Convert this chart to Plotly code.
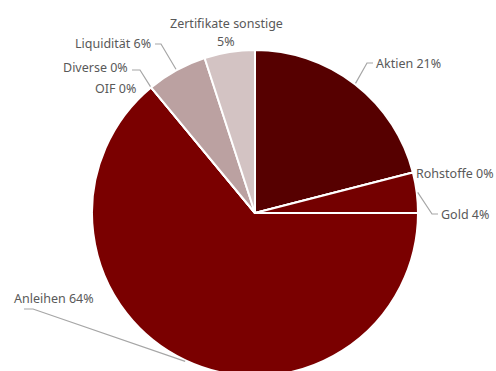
import math
import plotly.graph_objects as go

# Portfolio allocation (percent)
categories = ["Aktien", "Rohstoffe", "Gold", "Anleihen", "OIF", "Diverse",
              "Liquidität", "Zertifikate sonstige"]
shares = [21, 0, 4, 64, 0, 0, 6, 5]
colors = ["#560000", "#6e0000", "#740000", "#7a0000", "#7a0000", "#7a0000",
          "#bba1a1", "#d3c3c3"]

W, H = 496, 376
CX, CY, R = 255, 213, 163          # pie centre / radius in pixels
TEXT = "#595959"
LINE = "#a6a6a6"
FONT = dict(family="Noto Sans", size=12.5, color=TEXT)


def px(x, y):
    return x / W, 1 - y / H


def edge_point(frac, r=R):
    """Point on the rim at a cumulative fraction (clockwise from 12 o'clock)."""
    a = 2 * math.pi * frac
    return CX + r * math.sin(a), CY - r * math.cos(a)


total = sum(shares)
cum = []
acc = 0
for v in shares:
    cum.append((acc / total, (acc + v) / total))
    acc += v

fig = go.Figure(go.Pie(
    labels=categories,
    values=shares,
    sort=False,
    direction="clockwise",
    rotation=0,
    marker=dict(colors=colors, line=dict(color="white", width=2)),
    textinfo="none",
    hoverinfo="label+percent",
    showlegend=False,
    domain=dict(x=[(CX - R) / W, (CX + R) / W], y=[0, 2 * R / H]),
))

# label text position (x, y, xanchor) and leader-line elbow points per category
label_layout = {
    "Aktien": ((374, 63, "left"), [(367, 63), (373, 63)]),
    "Rohstoffe": ((414, 173, "left"), None),
    "Gold": ((439, 214, "left"), [(432, 214), (438, 214)]),
    "Anleihen": ((12, 298, "left"), [(33, 309), (24, 309)]),
    "OIF": ((138, 88, "right"), None),
    "Diverse": ((130, 67, "right"), [(140, 70), (132, 70)]),
    "Liquidität": ((153, 43, "right"), [(161, 44), (155, 44)]),
}

annotations = []
shapes = []
for name, v, (f0, f1) in zip(categories, shares, cum):
    if name == "Zertifikate sonstige":
        continue
    (lx, ly, anchor), elbow = label_layout[name]
    x, y = px(lx, ly)
    annotations.append(dict(
        x=x, y=y, xref="paper", yref="paper", xanchor=anchor, yanchor="middle",
        text=f"{name} {v}%", showarrow=False, font=FONT,
    ))
    if elbow:
        sx, sy = edge_point((f0 + f1) / 2, R + 1)
        pts = [(sx, sy)] + elbow
        path = "M " + " L ".join(f"{px(a, b)[0]},{px(a, b)[1]}" for a, b in pts)
        shapes.append(dict(type="path", path=path, xref="paper", yref="paper",
                           line=dict(color=LINE, width=1.2)))

# two-line label for the last category
zx = 226
for text, ty in [("Zertifikate sonstige", 23), (f"{shares[-1]}%", 42)]:
    x, y = px(zx, ty)
    annotations.append(dict(
        x=x, y=y, xref="paper", yref="paper", xanchor="center", yanchor="middle",
        text=text, showarrow=False, font=FONT,
    ))

fig.update_layout(
    width=W, height=H,
    margin=dict(l=0, r=0, t=0, b=0),
    paper_bgcolor="white",
    plot_bgcolor="white",
    annotations=annotations,
    shapes=shapes,
)

fig.write_html(
    "out.html",
    config={"displayModeBar": False},
    post_script="document.documentElement.style.overflow='hidden';"
                "document.body.style.overflow='hidden';document.body.style.margin='0';",
)
